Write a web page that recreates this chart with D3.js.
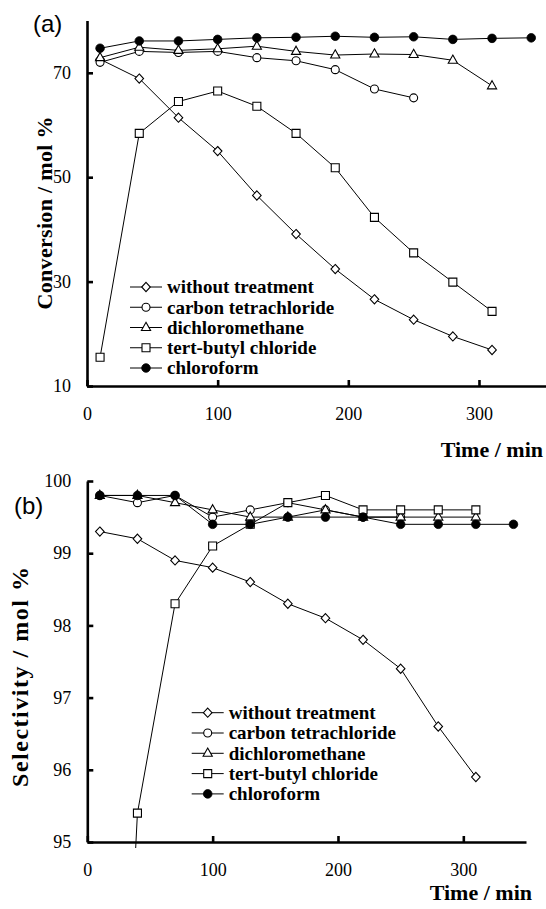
<!DOCTYPE html>
<html>
<head>
<meta charset="utf-8">
<script src="https://cdn.jsdelivr.net/npm/d3@7"></script>
<style>
  html, body { margin: 0; padding: 0; background: #fff; }
  svg { display: block; }
</style>
</head>
<body>
<div id="chart"></div>
<script>
// ---------- DATA ----------
const seriesNames = ["without treatment", "carbon tetrachloride", "dichloromethane", "tert-butyl chloride", "chloroform"];
const seriesMarkers = ["diamond", "circle", "triangle", "square", "dot"];

// Panel (a): conversion / mol %
const timeConvWithout = [10, 40, 70, 100, 130, 160, 190, 220, 250, 280, 310];
const convWithout     = [72.6, 68.9, 61.4, 55.0, 46.5, 39.1, 32.4, 26.6, 22.7, 19.5, 16.9];
const timeConvCCl4    = [10, 40, 70, 100, 130, 160, 190, 220, 250];
const convCCl4        = [72.0, 74.1, 73.9, 74.1, 72.9, 72.3, 70.6, 66.9, 65.2];
const timeConvCH2Cl2  = [10, 40, 70, 100, 130, 160, 190, 220, 250, 280, 310];
const convCH2Cl2      = [72.9, 74.9, 74.3, 74.6, 75.1, 74.1, 73.4, 73.6, 73.5, 72.4, 67.5];
const timeConvTBC     = [10, 40, 70, 100, 130, 160, 190, 220, 250, 280, 310];
const convTBC         = [15.5, 58.4, 64.5, 66.5, 63.6, 58.4, 51.8, 42.3, 35.5, 29.9, 24.3];
const timeConvCHCl3   = [10, 40, 70, 100, 130, 160, 190, 220, 250, 280, 310, 340];
const convCHCl3       = [74.7, 76.1, 76.1, 76.4, 76.7, 76.8, 77.0, 76.8, 76.9, 76.4, 76.6, 76.7];

// Panel (b): selectivity / mol %
const timeSelWithout = [10, 40, 70, 100, 130, 160, 190, 220, 250, 280, 310];
const selWithout     = [99.3, 99.2, 98.9, 98.8, 98.6, 98.3, 98.1, 97.8, 97.4, 96.6, 95.9];
const timeSelCCl4    = [10, 40, 70, 100, 130, 160, 190, 220, 250];
const selCCl4        = [99.8, 99.7, 99.8, 99.5, 99.6, 99.7, 99.6, 99.5, 99.5];
const timeSelCH2Cl2  = [10, 40, 70, 100, 130, 160, 190, 220, 250, 280, 310];
const selCH2Cl2      = [99.8, 99.8, 99.7, 99.6, 99.5, 99.5, 99.6, 99.5, 99.5, 99.5, 99.5];
const timeSelTBC     = [10, 40, 70, 100, 130, 160, 190, 220, 250, 280, 310];
const selTBC         = [85.0, 95.4, 98.3, 99.1, 99.4, 99.7, 99.8, 99.6, 99.6, 99.6, 99.6];
const timeSelCHCl3   = [10, 40, 70, 100, 130, 160, 190, 220, 250, 280, 310, 340];
const selCHCl3       = [99.8, 99.8, 99.8, 99.4, 99.4, 99.5, 99.5, 99.5, 99.4, 99.4, 99.4, 99.4];

const xTicks = [0, 100, 200, 300];
const convTicks = [10, 30, 50, 70];
const selTicks = [95, 96, 97, 98, 99, 100];

// ---------- DRAW ----------
const W = 546, H = 909;
const serif = "'Liberation Serif', 'Times New Roman', serif";
const sans = "'Liberation Sans', Arial, sans-serif";

const svg = d3.select("#chart").append("svg")
  .attr("width", W).attr("height", H)
  .attr("viewBox", `0 0 ${W} ${H}`);
svg.append("rect").attr("width", W).attr("height", H).attr("fill", "#fff");

function markerPath(type) {
  switch (type) {
    case "diamond": return "M0,-4.6L4.3,0L0,4.6L-4.3,0Z";
    case "triangle": return "M0,-5.2L4.6,3L-4.6,3Z";
    case "square": return "M-4,-4H4V4H-4Z";
    default: return null;
  }
}
function drawMarker(g, type, x, y) {
  if (type === "circle") {
    g.append("circle").attr("cx", x).attr("cy", y).attr("r", 4)
      .attr("fill", "#fff").attr("stroke", "#000").attr("stroke-width", 1.1);
  } else if (type === "dot") {
    g.append("circle").attr("cx", x).attr("cy", y).attr("r", 4.3)
      .attr("fill", "#000").attr("stroke", "#000").attr("stroke-width", 0.8);
  } else {
    g.append("path").attr("d", markerPath(type))
      .attr("transform", `translate(${x},${y})`)
      .attr("fill", "#fff").attr("stroke", "#000").attr("stroke-width", 1.1);
  }
}

function panel(opts) {
  const g = svg.append("g");
  const x = d3.scaleLinear().domain(opts.xDomain).range(opts.xRange);
  const y = d3.scaleLinear().domain(opts.yDomain).range(opts.yRange);

  const clipId = "clip" + opts.id;
  svg.append("defs").append("clipPath").attr("id", clipId)
    .append("rect").attr("x", opts.xRange[0] - 20).attr("y", opts.yRange[1] - 20)
    .attr("width", opts.xRange[1] - opts.xRange[0] + 40)
    .attr("height", opts.yRange[0] - opts.yRange[1] + 20 + opts.clipBelow);

  const data = g.append("g").attr("clip-path", `url(#${clipId})`);
  const line = d3.line().x(d => x(d[0])).y(d => y(d[1]));
  opts.series.forEach((s) => {
    const pts = s.t.map((t, j) => [t, s.v[j]]);
    data.append("path").attr("d", line(pts))
      .attr("fill", "none").attr("stroke", "#000").attr("stroke-width", 1);
  });
  opts.series.forEach((s, i) => {
    const mg = data.append("g");
    s.t.forEach((t, j) => {
      const v = s.v[j];
      if (v >= opts.yDomain[0] && v <= opts.yDomain[1]) drawMarker(mg, seriesMarkers[i], x(t), y(v));
    });
  });

  const xAxis = d3.axisBottom(x).tickValues(xTicks).tickSizeInner(-6).tickSizeOuter(0)
    .tickPadding(21).tickFormat(d3.format("d"));
  const yAxis = d3.axisLeft(y).tickValues(opts.yTicks).tickSizeInner(-6).tickSizeOuter(0)
    .tickPadding(16).tickFormat(d3.format("d"));
  const gx = g.append("g").attr("transform", `translate(0,${opts.yRange[0]})`).call(xAxis);
  const gy = g.append("g").attr("transform", `translate(${opts.xRange[0]},0)`).call(yAxis);
  [gx, gy].forEach(a => {
    a.select(".domain").attr("stroke", "#000").attr("stroke-width", 2.6);
    a.selectAll(".tick line").attr("stroke", "#000").attr("stroke-width", 2.6);
    a.selectAll(".tick text").attr("font-family", serif).attr("font-size", 18).attr("fill", "#000");
  });

  const lg = g.append("g");
  seriesNames.forEach((name, i) => {
    const ly = opts.legend.y + i * opts.legend.step;
    lg.append("line").attr("x1", opts.legend.x).attr("x2", opts.legend.x + 32)
      .attr("y1", ly).attr("y2", ly).attr("stroke", "#000").attr("stroke-width", 1);
    drawMarker(lg, seriesMarkers[i], opts.legend.x + 16, ly);
    lg.append("text").attr("x", opts.legend.x + 37).attr("y", ly).attr("dy", "0.33em")
      .attr("font-family", serif).attr("font-weight", "bold").attr("font-size", 19)
      .text(name);
  });

  g.append("text").attr("transform", `translate(${opts.yTitle.x},${opts.yTitle.y}) rotate(-90)`)
    .attr("text-anchor", "middle").attr("font-family", serif).attr("font-weight", "bold")
    .attr("font-size", opts.yTitle.size)
    .attr("textLength", opts.yTitle.len).attr("lengthAdjust", "spacing")
    .text(opts.yTitle.text);
  g.append("text").attr("x", opts.xTitle.x).attr("y", opts.xTitle.y)
    .attr("text-anchor", "end").attr("font-family", serif).attr("font-weight", "bold")
    .attr("font-size", 22).text("Time / min");
  g.append("text").attr("x", opts.label.x).attr("y", opts.label.y)
    .attr("font-family", sans).attr("font-size", 24).text(opts.label.text);
}

panel({
  id: "a",
  xDomain: [0, 351.3], xRange: [87, 546],
  yDomain: [10, 80], yRange: [386, 20.6],
  yTicks: convTicks, clipBelow: 0,
  series: [
    { t: timeConvWithout, v: convWithout },
    { t: timeConvCCl4, v: convCCl4 },
    { t: timeConvCH2Cl2, v: convCH2Cl2 },
    { t: timeConvTBC, v: convTBC },
    { t: timeConvCHCl3, v: convCHCl3 }
  ],
  legend: { x: 130, y: 287, step: 20.25 },
  yTitle: { x: 51.5, y: 213, text: "Conversion / mol %", size: 22, len: 193 },
  xTitle: { x: 543, y: 457 },
  label: { x: 33, y: 32, text: "(a)" }
});

panel({
  id: "b",
  xDomain: [0, 350], xRange: [87.3, 526],
  yDomain: [95, 100], yRange: [842, 481],
  yTicks: selTicks, clipBelow: 6,
  series: [
    { t: timeSelWithout, v: selWithout },
    { t: timeSelCCl4, v: selCCl4 },
    { t: timeSelCH2Cl2, v: selCH2Cl2 },
    { t: timeSelTBC, v: selTBC },
    { t: timeSelCHCl3, v: selCHCl3 }
  ],
  legend: { x: 191.7, y: 712.7, step: 20.3 },
  yTitle: { x: 28, y: 677, text: "Selectivity / mol %", size: 24, len: 220 },
  xTitle: { x: 532, y: 900 },
  label: { x: 14, y: 514, text: "(b)" }
});
</script>
</body>
</html>
